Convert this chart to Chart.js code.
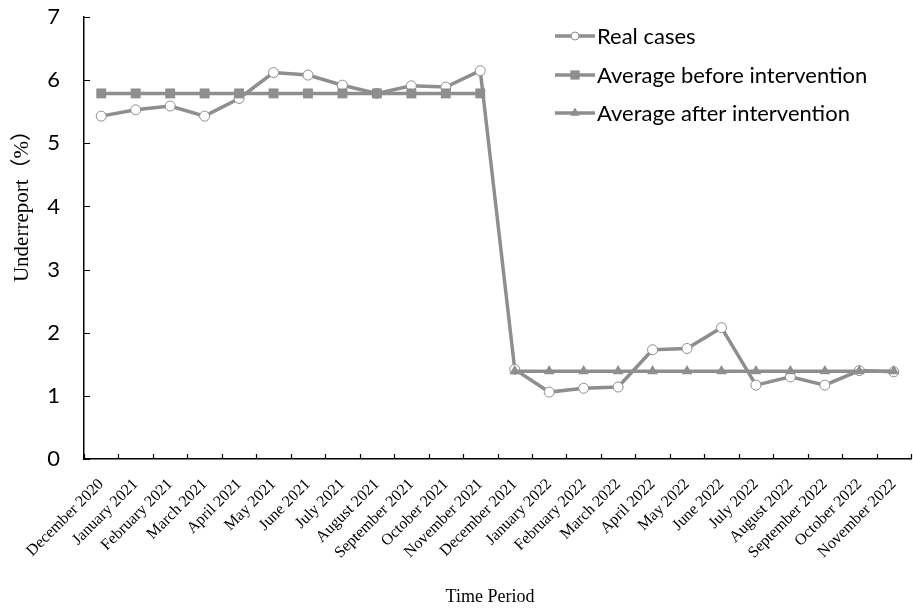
<!DOCTYPE html>
<html>
<head>
<meta charset="utf-8">
<script src="https://cdn.jsdelivr.net/npm/chart.js@4.4.1/dist/chart.umd.min.js"></script>
<style>
html,body{margin:0;padding:0;background:#fff;overflow:hidden;width:913px;height:610px;}
#wrap{position:absolute;left:0;top:0;width:918px;height:610px;}
</style>
</head>
<body>
<div id="wrap"><canvas id="c" width="918" height="610"></canvas></div>
<script>
const categories = ["December 2020","January 2021","February 2021","March 2021","April 2021","May 2021","June 2021","July 2021","August 2021","September 2021","October 2021","November 2021","December 2021","January 2022","February 2022","March 2022","April 2022","May 2022","June 2022","July 2022","August 2022","September 2022","October 2022","November 2022"];
const realCases = [5.43,5.53,5.59,5.43,5.71,6.12,6.08,5.92,5.79,5.91,5.89,6.15,1.42,1.06,1.12,1.14,1.73,1.75,2.08,1.17,1.30,1.17,1.40,1.38];
const avgBefore = [5.79,5.79,5.79,5.79,5.79,5.79,5.79,5.79,5.79,5.79,5.79,5.79,null,null,null,null,null,null,null,null,null,null,null,null];
const avgAfter = [null,null,null,null,null,null,null,null,null,null,null,null,1.39,1.39,1.39,1.39,1.39,1.39,1.39,1.39,1.39,1.39,1.39,1.39];
const seriesNames = ["Real cases","Average before intervention","Average after intervention"];
const yTicks = [0,1,2,3,4,5,6,7];
const xTitle = 'Time Period';
const yTitle = 'Underreport（%）';

const GRAY = '#8e8e8e';
const serif = '"Liberation Serif", "Times New Roman", serif';
const sans = 'Lato, "Noto Sans", sans-serif';

const legendPlugin = {
  id: 'customLegend',
  afterDraw(chart) {
    const ctx = chart.ctx;
    const rows = [36, 75, 113];
    const markers = [
      {pointStyle:'circle', radius:4, borderWidth:1, fill:'#fff'},
      {pointStyle:'rect', radius:6.5, borderWidth:0, fill:GRAY},
      {pointStyle:'triangle', radius:5.5, borderWidth:0, fill:GRAY}
    ];
    chart.data.datasets.forEach((ds, i) => {
      const y = rows[i];
      ctx.save();
      ctx.strokeStyle = GRAY;
      ctx.lineWidth = 3.5;
      ctx.beginPath();
      ctx.moveTo(555, y);
      ctx.lineTo(595, y);
      ctx.stroke();
      ctx.fillStyle = markers[i].fill;
      ctx.strokeStyle = GRAY;
      ctx.lineWidth = markers[i].borderWidth || 0.001;
      Chart.helpers.drawPoint(ctx, {pointStyle: markers[i].pointStyle, radius: markers[i].radius, rotation: 0, borderWidth: markers[i].borderWidth}, 575, y);
      ctx.fillStyle = '#000';
      ctx.font = '22px ' + sans;
      ctx.textBaseline = 'middle';
      ctx.textAlign = 'left';
      ctx.fillText(ds.label, 597, y + 1);
      ctx.restore();
    });
  }
};

const titlesPlugin = {
  id: 'axisTitles',
  afterDraw(chart) {
    const ctx = chart.ctx;
    ctx.save();
    ctx.fillStyle = '#000';
    ctx.textAlign = 'center';
    ctx.textBaseline = 'middle';
    ctx.font = '18px ' + serif;
    ctx.fillText(xTitle, 490, 597);
    ctx.translate(22, 201);
    ctx.rotate(-Math.PI / 2);
    ctx.font = '21px ' + serif + ', "Noto Sans CJK SC"';
    ctx.fillText(yTitle, 0, 0);
    ctx.restore();
  }
};

const innerTicks = {
  id: 'innerTicks',
  afterDraw(chart) {
    const ctx = chart.ctx;
    const xs = chart.scales.x, ys = chart.scales.y;
    const a = chart.chartArea;
    ctx.save();
    ctx.strokeStyle = '#000';
    ctx.lineWidth = 1.2;
    ctx.beginPath();
    for (let i = 0; i <= categories.length; i++) {
      const px = Math.round(xs.getPixelForValue(i - 0.5)) + 0.5;
      ctx.moveTo(px, a.bottom);
      ctx.lineTo(px, a.bottom - 5);
    }
    yTicks.forEach(v => {
      const py = Math.round(ys.getPixelForValue(v)) + 0.5;
      ctx.moveTo(a.left, py);
      ctx.lineTo(a.left + 6, py);
    });
    ctx.stroke();
    ctx.restore();
  }
};

new Chart(document.getElementById('c'), {
  type: 'line',
  data: {
    labels: categories,
    datasets: [
      {label: seriesNames[0], data: realCases, borderColor: GRAY, borderWidth: 3.5, backgroundColor: '#fff',
       pointStyle: 'circle', pointRadius: 5, pointBorderWidth: 1, pointBorderColor: GRAY, pointBackgroundColor: '#fff', tension: 0, order: 3},
      {label: seriesNames[1], data: avgBefore, borderColor: GRAY, borderWidth: 3.5, backgroundColor: GRAY,
       pointStyle: 'rect', pointRadius: 7, pointBorderWidth: 0, pointBackgroundColor: GRAY, tension: 0, spanGaps: false, order: 1},
      {label: seriesNames[2], data: avgAfter, borderColor: GRAY, borderWidth: 3.5, backgroundColor: GRAY,
       pointStyle: 'triangle', pointRadius: 6.2, pointBorderWidth: 0, pointBackgroundColor: GRAY, tension: 0, spanGaps: false, order: 2}
    ]
  },
  options: {
    responsive: false,
    animation: false,
    devicePixelRatio: 1,
    layout: {padding: {top: 17, right: 1, bottom: 0, left: 0}},
    plugins: {legend: {display: false}, tooltip: {enabled: false}},
    scales: {
      x: {
        type: 'category',
        offset: true,
        grid: {display: false},
        border: {display: true, color: '#000', width: 1.5},
        ticks: {color: '#000', font: {family: serif, size: 16}, minRotation: 45, maxRotation: 45, autoSkip: false, padding: 8},
        title: {display: false},
        afterFit: s => { s.height = 151; }
      },
      y: {
        min: 0, max: 7,
        afterBuildTicks: s => { s.ticks = yTicks.map(v => ({value: v})); },
        grid: {display: false},
        border: {display: true, color: '#000', width: 1.5},
        ticks: {color: '#000', font: {family: sans, size: 22}, padding: 16},
        title: {display: false},
        afterFit: s => { s.width = 84; s.paddingTop = 0; s.paddingBottom = 0; }
      }
    }
  },
  plugins: [innerTicks, legendPlugin, titlesPlugin]
});
</script>
</body>
</html>
